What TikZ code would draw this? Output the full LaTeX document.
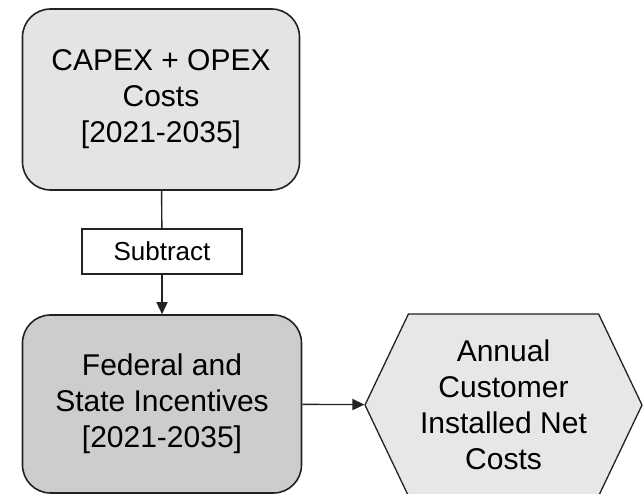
\documentclass[tikz,border=0pt]{standalone}
\usepackage{fontspec}
\setmainfont{Liberation Sans}
\usetikzlibrary{arrows.meta,positioning,shapes.symbols}

\definecolor{costfill}{HTML}{E4E4E4}
\definecolor{incfill}{HTML}{CDCDCD}
\definecolor{netfill}{HTML}{E7E7E7}
\definecolor{edge}{HTML}{222222}

\begin{document}
\begin{tikzpicture}[x=1pt,y=1pt,
  stage/.style={draw=edge,line width=1.6pt,rounded corners=28pt,align=center,
    font=\fontsize{30}{36}\selectfont,text=black},
  opbox/.style={draw=edge,line width=1.3pt,fill=white,minimum width=160pt,
    minimum height=45pt,font=\fontsize{26}{30}\selectfont},
  result/.style={draw=edge,line width=1.3pt,fill=netfill,shape=signal,
    signal to=west and east,signal pointer angle=129,minimum width=277pt,
    minimum height=182pt,align=center,font=\fontsize{30}{36}\selectfont,inner sep=0pt},
  flow/.style={draw=edge,line width=1.4pt,-{Triangle[length=12pt,width=11pt]}}]
\useasboundingbox (0,0) rectangle (644,494);
\node[stage,fill=costfill,minimum width=277pt,minimum height=181pt] (capex) at (161,394.5) {CAPEX + OPEX\\Costs\\{[2021-2035]}};
\node[opbox] (sub) at (162,242.5) {Subtract};
\node[stage,fill=incfill,minimum width=279pt,minimum height=178pt] (incent) at (162,90) {Federal and\\State Incentives\\{[2021-2035]}};
\node[result] (net) at (503.5,89) {Annual\\Customer\\Installed Net\\Costs};
\draw[draw=edge,line width=1.4pt] (capex) -- (sub);
\draw[flow] (sub) -- (incent);
\draw[flow] (incent) -- (net);
\end{tikzpicture}
\end{document}
